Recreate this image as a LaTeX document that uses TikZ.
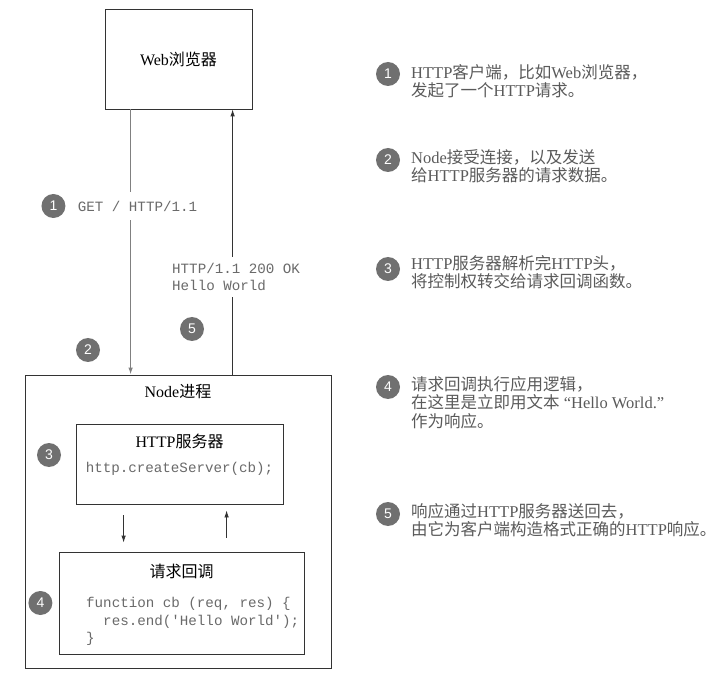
\documentclass[tikz,border=0pt]{standalone}
\usepackage{fontspec}
\setmainfont{Liberation Serif}
\setmonofont{Liberation Mono}
\newfontfamily\cjk{Noto Sans CJK SC}
\newfontfamily\numfont{Liberation Sans}
\newcommand{\zh}[1]{{\cjk #1}}
\usepackage{xcolor}
\usetikzlibrary{arrows.meta,positioning}
\definecolor{numgray}{HTML}{707070}
\definecolor{txtgray}{HTML}{5A5A5A}
\definecolor{codegray}{HTML}{6A6A6A}

\begin{document}
\begin{tikzpicture}[x=1pt,y=-1pt,
  box/.style={draw=black!80,line width=0.8pt,fill=white,inner sep=0pt,font=\fontsize{16}{18}\selectfont},
  title/.style={font=\fontsize{16}{18}\selectfont,text=black,inner sep=0pt},
  code/.style={font=\ttfamily\fontsize{14.2}{17.5}\selectfont,text=codegray,align=left,inner sep=0pt},
  num/.style={circle,fill=numgray,text=white,minimum size=24pt,inner sep=0pt,font=\numfont\fontsize{14}{14}\selectfont},
  note/.style={font=\fontsize{16.5}{18.5}\selectfont,text=txtgray,align=left,inner sep=0pt,anchor=north west},
  tip/.style={-{Latex[length=7pt,width=4.5pt]}},
]
\useasboundingbox (0,0) rectangle (721,679);

%browser and node process
\node[box,minimum width=147pt,minimum height=100pt] (web) at (178.5,59) {Web\zh{浏览器}};
\node[box,minimum width=306pt,minimum height=293pt] (proc) at (178,521.5) {};
\node[title,below=9pt of proc.north] (proctext) {Node\zh{进程}};

%http server
\node[box,minimum width=207pt,minimum height=80pt] (srv) at (179.5,464) {};
\node[title,below=10pt of srv.north] (srvtext) {HTTP\zh{服务器}};
\node[code] (srvcode) at (179.5,469) {http.createServer(cb);};

%request callback
\node[box,minimum width=245pt,minimum height=102pt] (cb) at (181.5,603) {};
\node[title,below=12pt of cb.north] (cbtext) {\zh{请求回调}};
\node[code,anchor=west] (cbcode) at (86,621.5) {function cb (req, res) \{\\\ \ res.end('Hello World');\\\}};

%request and response
\draw[draw=black!50,line width=1.2pt,tip] ([xshift=26pt]web.south west) -- ([xshift=106pt]proc.north west);
\draw[draw=black!80,line width=0.8pt,tip] ([xshift=208pt]proc.north west) -- ([xshift=128pt]web.south west);
\node[code,fill=white,inner ysep=9pt] (get) at (137.5,206) {GET / HTTP/1.1};
\node[code,fill=white,inner ysep=6pt,anchor=west] (resp) at (172,277) {HTTP/1.1 200 OK\\Hello World};

%inside the process
\draw[draw=black!80,line width=0.8pt,tip] ([xshift=48pt,yshift=-11pt]srv.south west) -- ([xshift=65pt,yshift=9pt]cb.north west);
\draw[draw=black!80,line width=0.8pt,tip] ([xshift=168pt,yshift=14pt]cb.north west) -- ([xshift=151pt,yshift=-6pt]srv.south west);

%step markers
\node[num,left=12pt of get] (n1) {1};
\node[num] (n2) at (88,350) {2};
\node[num] (n3) at (49,455) {3};
\node[num,left=6pt of cb] (n4) {4};
\node[num] (n5) at (192,329) {5};

%notes on the right
\node[num] (m1) at (388,74) {1};
\node[note] (t1) at (411,64) {HTTP\zh{客户端，比如}Web\zh{浏览器，}\\\zh{发起了一个}HTTP\zh{请求。}};
\node[num] (m2) at (388,160) {2};
\node[note] (t2) at (411,149) {Node\zh{接受连接，以及发送}\\\zh{给}HTTP\zh{服务器的请求数据。}};
\node[num] (m3) at (388,269) {3};
\node[note] (t3) at (411,255) {HTTP\zh{服务器解析完}HTTP\zh{头，}\\\zh{将控制权转交给请求回调函数。}};
\node[num] (m4) at (388,387) {4};
\node[note] (t4) at (411,376) {\zh{请求回调执行应用逻辑，}\\\zh{在这里是立即用文本} ``Hello World.''\\\zh{作为响应。}};
\node[num] (m5) at (388,514) {5};
\node[note] (t5) at (411,503) {\zh{响应通过}HTTP\zh{服务器送回去，}\\\zh{由它为客户端构造格式正确的}HTTP\zh{响应。}};

\end{tikzpicture}
\end{document}
